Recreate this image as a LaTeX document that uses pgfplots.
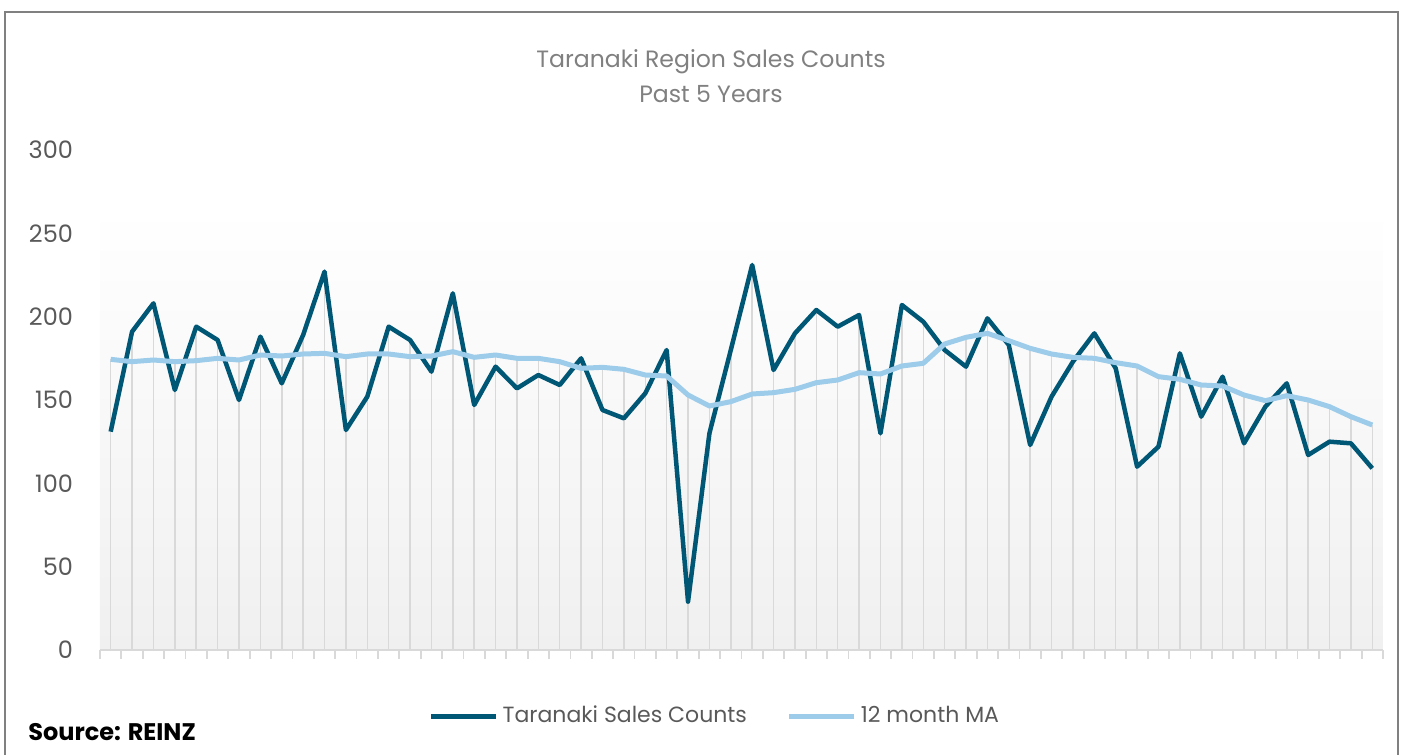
\documentclass[border=0pt]{standalone}
\usepackage{fontspec}
\setmainfont{Poppins}
\usepackage{pgfplots}
\pgfplotsset{compat=1.18}
\usepackage{pgfplotstable}
\definecolor{darkser}{RGB}{0,87,117}
\definecolor{lightser}{RGB}{157,204,235}
\definecolor{gridc}{RGB}{217,217,217}
\definecolor{ticklab}{RGB}{89,89,89}
\definecolor{titlec}{RGB}{128,128,128}
\definecolor{framec}{RGB}{128,128,128}
\definecolor{shadebot}{RGB}{240,240,240}

\pgfplotstableread{
x sales ma
0 131 174.4
1 191 173
2 208 174
3 156 173
4 194 173.6
5 186 175
6 150 174
7 188 177
8 160 176.4
9 189 177.6
10 227 178
11 132 176
12 152 177.6
13 194 177.6
14 186 176
15 167 176.4
16 214 179
17 147 175.6
18 170 177
19 157 175
20 165 175
21 159 173
22 175 169
23 144 169.6
24 139 168.4
25 154 165
26 180 164.4
27 29 153
28 130 146.4
29 180 149
30 231 153.6
31 168 154.4
32 190 156.4
33 204 160.4
34 194 162
35 201 166.4
36 130 165.6
37 207 170.4
38 197 172
39 180 183.6
40 170 187.6
41 199 190
42 183 185.6
43 123 181
44 152 177.6
45 173 175.6
46 190 175
47 169 172.4
48 110 170.4
49 122 164
50 178 162.4
51 140 159
52 164 158.4
53 124 153
54 146 149.6
55 160 152.6
56 117 150
57 125 146
58 124 140
59 109 135
}\datatable

\begin{document}
\begin{tikzpicture}[x=1pt,y=1pt]
\useasboundingbox (0,0) rectangle (701.5,377.5);
\draw[framec, line width=0.9pt] (2.5,-3) -- (2.5,371.5) -- (699,371.5) -- (699,-3);
\node[titlec, anchor=base, font=\fontsize{11.8}{14}\selectfont] at (355.5,343.85) {Taranaki Region Sales Counts};
\node[titlec, anchor=base, font=\fontsize{11.8}{14}\selectfont] at (355.5,326.15) {Past 5 Years};
\node[anchor=west, inner sep=0pt, font=\bfseries\fontsize{12}{14}\selectfont] at (14,11.5) {Source: REINZ};
\begin{axis}[
  at={(50pt,52.5pt)}, anchor=south west,
  scale only axis, width=641.5pt, height=250pt,
  xmin=-0.5, xmax=59.5, ymin=0, ymax=300,
  axis on top,
  separate axis lines,
  axis x line*=bottom, axis y line*=left,
  x axis line style={gridc, line width=0.9pt},
  y axis line style={draw=none},
  xtick={-0.5,0.5,...,59.5}, xticklabel=\empty,
  tick align=outside, major tick length=4.5pt,
  xtick style={gridc, line width=0.9pt},
  ytick={0,50,...,300}, ytick style={draw=none},
  /pgf/number format/assume math mode=true,
  yticklabel style={font=\fontsize{12}{14}\selectfont, text=ticklab, xshift=-5.5pt},
  legend style={at={(0.48,-0.132)}, anchor=center, draw=none, fill=none,
    legend columns=-1, font=\fontsize{11}{13}\selectfont, text=ticklab,
    /tikz/every even column/.append style={column sep=18pt},
    inner sep=0pt},
  legend image code/.code={\draw[#1, line width=2.5pt] (0pt,0pt) -- (32.5pt,0pt);},
]
\fill[top color=white, bottom color=shadebot] (axis cs:-0.5,0) rectangle (axis cs:59.5,266);
\addplot[ycomb, gridc, line width=0.75pt, forget plot] table[x=x,y=sales]{\datatable};
\addplot[ycomb, gridc, line width=0.75pt, forget plot] table[x=x,y=ma]{\datatable};
\addplot[darkser, line width=2.25pt, line join=round, mark=none] table[x=x,y=sales]{\datatable};
\addplot[lightser, line width=2.5pt, line join=round, mark=none] table[x=x,y=ma]{\datatable};
\legend{Taranaki Sales Counts, 12 month MA}
\end{axis}
\end{tikzpicture}
\end{document}
